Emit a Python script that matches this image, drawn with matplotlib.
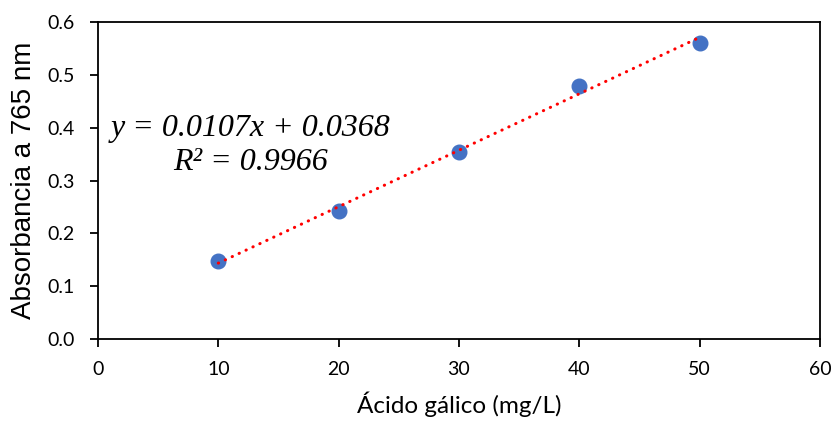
import matplotlib
matplotlib.use("Agg")
import matplotlib.pyplot as plt
import numpy as np

concentration = [10, 20, 30, 40, 50]
absorbance = [0.147, 0.243, 0.355, 0.479, 0.562]
slope = 0.0107
intercept = 0.0368
r2 = 0.9966
x_ticks = [0, 10, 20, 30, 40, 50, 60]
y_ticks = [0.0, 0.1, 0.2, 0.3, 0.4, 0.5, 0.6]

fig = plt.figure(figsize=(8.34, 4.21), dpi=100)
ax = fig.add_axes([0.1175, 0.1948, 0.9832 - 0.1175, 0.9466 - 0.1948])

xs = np.array([min(concentration), max(concentration)])
ax.plot(concentration, absorbance, 'o', color='#4472C4', markersize=10.5, zorder=2)
ax.plot(xs, slope * xs + intercept, color='#FF0000', lw=2.2,
        linestyle=(0, (0.1, 2.4)), dash_capstyle='round', zorder=3)

ax.set_xlim(0, 60)
ax.set_ylim(0, 0.6)
ax.set_xticks(x_ticks)
ax.set_yticks(y_ticks)
ax.set_xticklabels([str(t) for t in x_ticks], fontfamily='Lato', fontsize=14)
ax.set_yticklabels([f"{t:.1f}" for t in y_ticks], fontfamily='Lato', fontsize=14)
ax.tick_params(direction='out', length=5.5, width=1.3, colors='black')
ax.tick_params(axis='x', pad=10)
ax.tick_params(axis='y', pad=11)
for s in ax.spines.values():
    s.set_linewidth(1.3)
    s.set_color('black')

ax.set_xlabel('Ácido gálico (mg/L)', fontfamily='Lato', fontsize=17.5, labelpad=10)
ax.set_ylabel('Absorbancia a 765 nm', fontfamily='Liberation Sans', fontsize=20, labelpad=8)

ax.text(12.7, 0.367, f"y = {slope}x + {intercept}\nR² = {r2}",
        ha='center', va='center', multialignment='center',
        fontfamily='Liberation Serif', style='italic', fontsize=23, linespacing=1.25)

fig.savefig('out.png', dpi=100)
